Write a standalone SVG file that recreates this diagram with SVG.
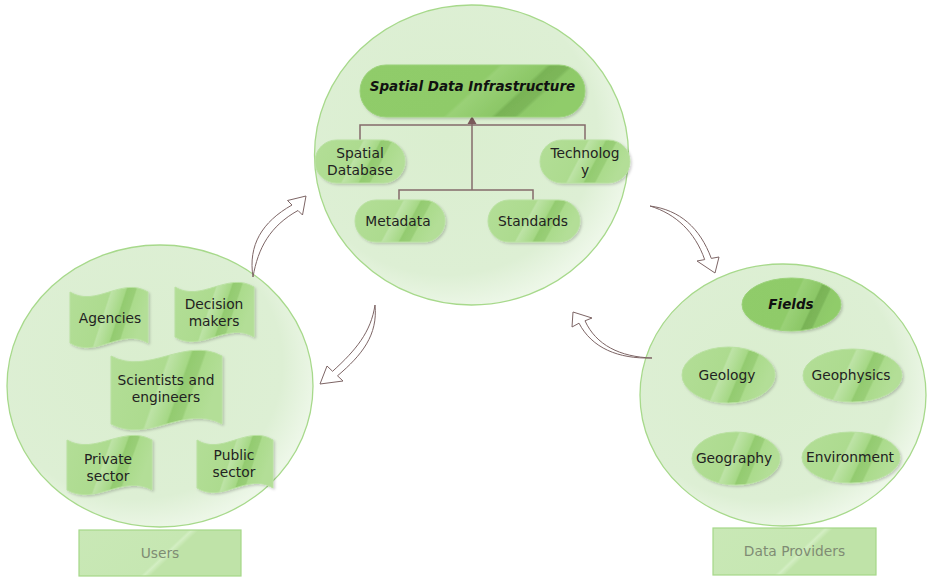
<svg xmlns="http://www.w3.org/2000/svg" width="927" height="577" viewBox="0 0 927 577">
  <style>
    .txt { font-family: "DejaVu Sans", Verdana, sans-serif; font-size: 13.8px; fill: #222; text-anchor: middle; }
    .head { font-weight: bold; font-style: italic; fill: #111; font-size: 13.5px; }
    .cap { fill: #7f8c74; }
    .zone { fill: url(#zoneFill); stroke: #a7d98b; stroke-width: 1.3; }
    .node { fill: url(#nodeFill); stroke: #b9e1a1; stroke-width: 1; filter: url(#shadow); }
    .key { fill: url(#keyFill); stroke: #9bd27a; stroke-width: 1; filter: url(#shadow); }
    .label { fill: url(#capFill); stroke: #a5d888; stroke-width: 1.2; }
    .link { fill: none; stroke: #846b6b; stroke-width: 1.5; }
    .flow { fill: #fff; stroke: #7d6565; stroke-width: 1; stroke-linejoin: round; }
  </style>
  <defs>
    <radialGradient id="zoneFill" cx="0.42" cy="0.42" r="0.6">
      <stop offset="0" stop-color="#daeecf"/>
      <stop offset="0.8" stop-color="#ddefd4"/>
      <stop offset="1" stop-color="#edf7e8"/>
    </radialGradient>
    <linearGradient id="nodeFill" x1="0" y1="0" x2="1" y2="0.25">
      <stop offset="0" stop-color="#b3de97"/>
      <stop offset="0.5" stop-color="#addb8f"/>
      <stop offset="0.52" stop-color="#bde3a6"/>
      <stop offset="0.68" stop-color="#a6d886"/>
      <stop offset="0.7" stop-color="#93cb70"/>
      <stop offset="0.8" stop-color="#99ce77"/>
      <stop offset="0.82" stop-color="#abdb8c"/>
      <stop offset="1" stop-color="#b3de97"/>
    </linearGradient>
    <linearGradient id="keyFill" x1="0" y1="0" x2="1" y2="0.25">
      <stop offset="0" stop-color="#90cc6a"/>
      <stop offset="0.58" stop-color="#8fcb69"/>
      <stop offset="0.6" stop-color="#9ad177"/>
      <stop offset="0.78" stop-color="#8cc767"/>
      <stop offset="0.8" stop-color="#79b356"/>
      <stop offset="0.88" stop-color="#7db75a"/>
      <stop offset="0.9" stop-color="#8ec969"/>
      <stop offset="1" stop-color="#90cc6a"/>
    </linearGradient>
    <linearGradient id="capFill" x1="0" y1="0" x2="1" y2="0.3">
      <stop offset="0" stop-color="#c9e8b6"/>
      <stop offset="0.62" stop-color="#c6e7b2"/>
      <stop offset="0.64" stop-color="#d3eec3"/>
      <stop offset="0.68" stop-color="#bfe3a8"/>
      <stop offset="1" stop-color="#bfe3a8"/>
    </linearGradient>
    <filter id="shadow" x="-10%" y="-10%" width="130%" height="140%">
      <feDropShadow dx="1.5" dy="1.5" stdDeviation="1" flood-color="#000" flood-opacity="0.18"/>
    </filter>
  </defs>

  <!-- three zones -->
  <g id="zone-sdi"><ellipse class="zone" cx="471.5" cy="155" rx="157" ry="150"/></g>
  <g id="zone-users"><ellipse class="zone" cx="160" cy="386" rx="153" ry="141"/></g>
  <g id="zone-providers"><ellipse class="zone" cx="783" cy="395" rx="143" ry="131"/></g>

  <!-- connectors -->
  <g id="connectors">
    <!-- SDI tree -->
    <path class="link" d="M360,140 V125 H585 V140"/>
    <path class="link" d="M472,123 V190"/>
    <path class="link" d="M399,200 V190 H533 V200"/>
    <polygon points="472,116 467.5,124 476.5,124" fill="#7a5a5a"/>
    <!-- cycle arrows -->
    <path class="flow" d="M253,277 C248,245 262,222 292,205 L287.5,200.5 L306,196 L302.5,215 L298,210.5 C270,226 258,248 253,277 Z"/>
    <path class="flow" d="M375,305 C378,335 362,355 337.5,375.8 L343,381 L320,384 L327,366 L332.6,371.3 C356,350 371,332 375,305 Z"/>
    <path class="flow" d="M650,206 C680,210 700,228 711.3,258.4 L719,257 L715,273 L697,261 L704.7,259.6 C695,232 676,214 650,206 Z"/>
    <path class="flow" d="M652,358 C620,357 596,345 585,320.8 L592,318 L573,312 L572,327 L579,323.2 C592,348 618,359 652,358 Z"/>
  </g>

  <!-- SDI zone nodes -->
  <g id="sdi">
    <rect class="key" x="360" y="65" width="225" height="52" rx="26"/>
    <text class="txt head" x="472.5" y="91">Spatial Data Infrastructure</text>
  </g>
  <g id="spatial-database">
    <rect class="node" x="315" y="140" width="90" height="43" rx="21.5"/>
    <text class="txt" x="360" y="158">Spatial</text>
    <text class="txt" x="360" y="175">Database</text>
  </g>
  <g id="technology">
    <rect class="node" x="540" y="140" width="90" height="43" rx="21.5"/>
    <text class="txt" x="585" y="158">Technolog</text>
    <text class="txt" x="585" y="175">y</text>
  </g>
  <g id="metadata">
    <rect class="node" x="355" y="200" width="90" height="42" rx="21"/>
    <text class="txt" x="398" y="226">Metadata</text>
  </g>
  <g id="standards">
    <rect class="node" x="488" y="200" width="92" height="42" rx="21"/>
    <text class="txt" x="533" y="226">Standards</text>
  </g>

  <!-- Users zone nodes -->
  <g id="agencies">
    <path class="node" d="M70,292 C96,308 122,276 148,292 L148,343 C122,327 96,359 70,343 Z"/>
    <text class="txt" x="110" y="323">Agencies</text>
  </g>
  <g id="decision-makers">
    <path class="node" d="M175,287 C201,303 228,271 254,287 L254,337 C228,321 201,353 175,337 Z"/>
    <text class="txt" x="214" y="309">Decision</text>
    <text class="txt" x="214" y="326">makers</text>
  </g>
  <g id="scientists">
    <path class="node" d="M111,356 C148,376 185,336 222,356 L222,424 C185,404 148,444 111,424 Z"/>
    <text class="txt" x="166" y="385">Scientists and</text>
    <text class="txt" x="166" y="402">engineers</text>
  </g>
  <g id="private-sector">
    <path class="node" d="M67,440 C95,456 124,424 152,440 L152,490 C124,474 95,506 67,490 Z"/>
    <text class="txt" x="108" y="464">Private</text>
    <text class="txt" x="108" y="481">sector</text>
  </g>
  <g id="public-sector">
    <path class="node" d="M197,440 C222,456 248,424 273,440 L273,488 C248,472 222,504 197,488 Z"/>
    <text class="txt" x="234" y="460">Public</text>
    <text class="txt" x="234" y="477">sector</text>
  </g>
  <g id="users">
    <rect class="label" x="79" y="530" width="162" height="46"/>
    <text class="txt cap" x="160" y="558">Users</text>
  </g>

  <!-- Data providers zone nodes -->
  <g id="fields">
    <ellipse class="key" cx="791.5" cy="304.5" rx="49.5" ry="26.5"/>
    <text class="txt head" x="791" y="309">Fields</text>
  </g>
  <g id="geology">
    <ellipse class="node" cx="728.5" cy="375" rx="46.5" ry="28"/>
    <text class="txt" x="727" y="380">Geology</text>
  </g>
  <g id="geophysics">
    <ellipse class="node" cx="852.5" cy="375.5" rx="49.5" ry="26.5"/>
    <text class="txt" x="851" y="380">Geophysics</text>
  </g>
  <g id="geography">
    <ellipse class="node" cx="736" cy="458.5" rx="44" ry="26.5"/>
    <text class="txt" x="734" y="463">Geography</text>
  </g>
  <g id="environment">
    <ellipse class="node" cx="851" cy="457.5" rx="49" ry="25.5"/>
    <text class="txt" x="850" y="462">Environment</text>
  </g>
  <g id="data-providers">
    <rect class="label" x="713" y="528" width="163" height="47"/>
    <text class="txt cap" x="794.5" y="556">Data Providers</text>
  </g>
</svg>
